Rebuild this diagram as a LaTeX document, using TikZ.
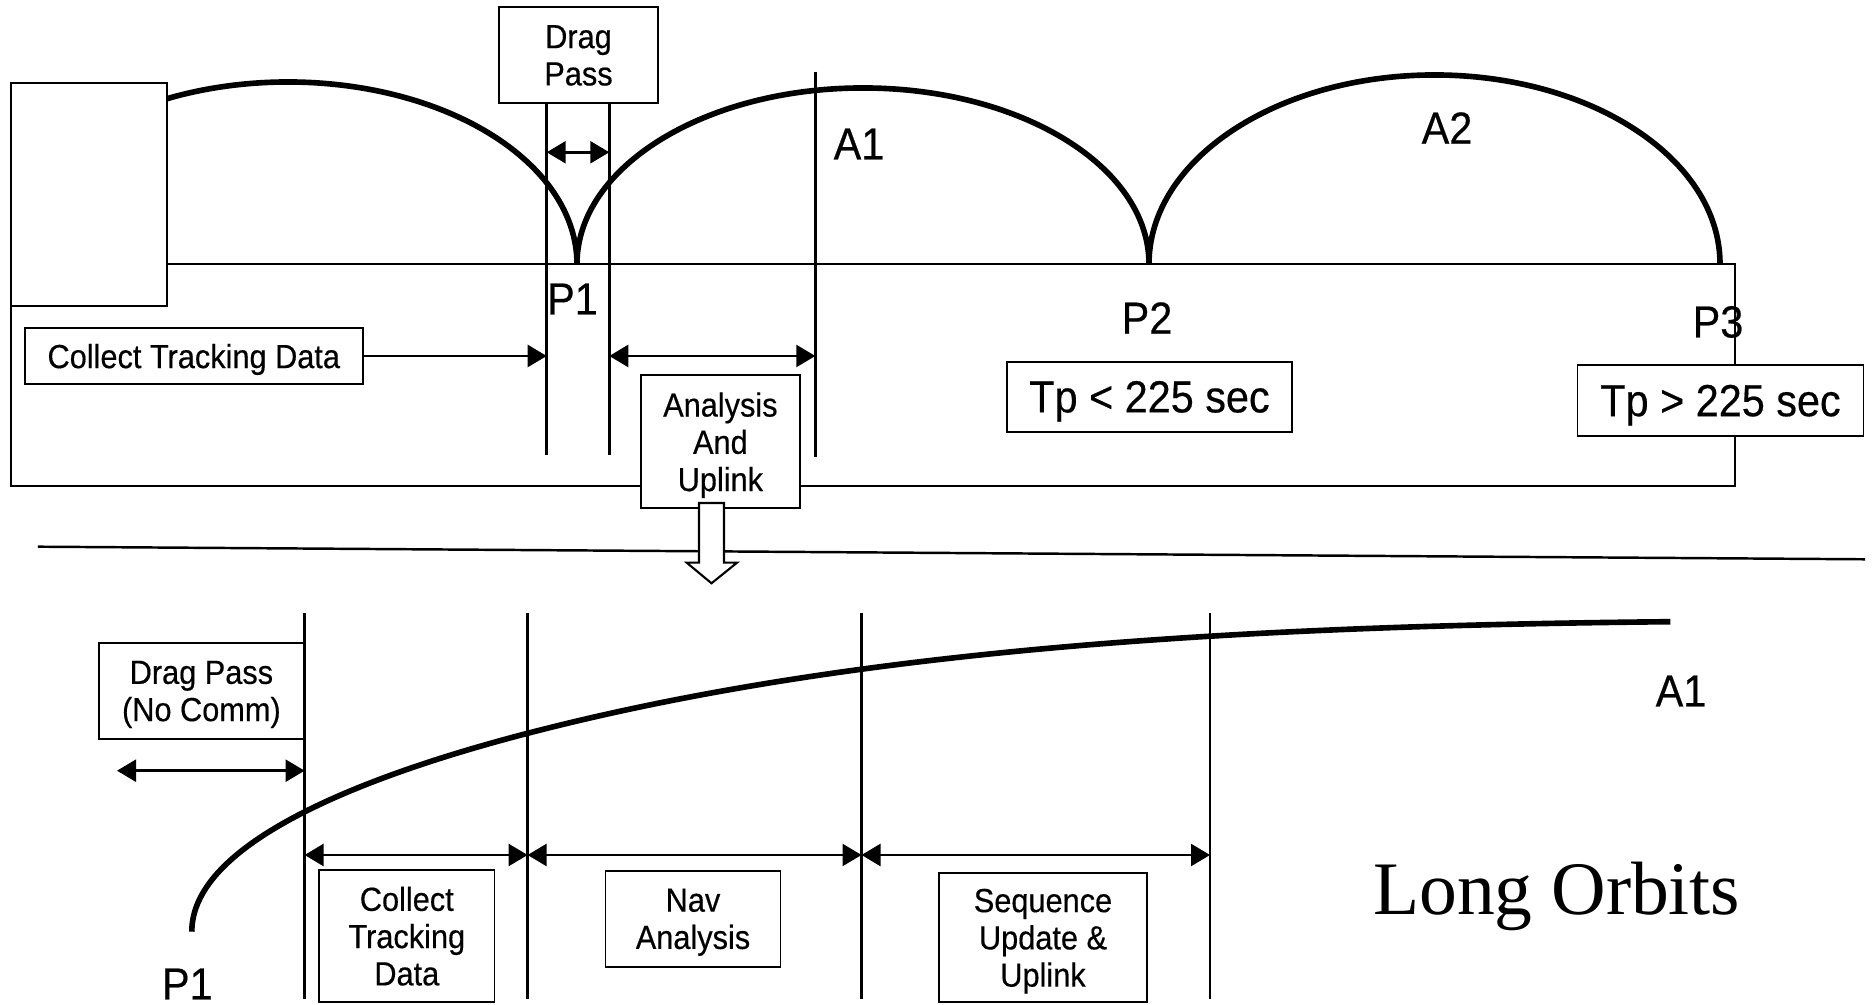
\documentclass[tikz,border=0pt]{standalone}
\usepackage{fontspec}
\setmainfont{Liberation Sans}[FakeStretch=0.92, FakeBold=0.4]
\newfontfamily\titlefont{Liberation Serif}
\usepackage{tikz}
\usetikzlibrary{arrows.meta}
\tikzset{
  lbl/.style={draw, fill=white, line width=0.5pt, inner sep=0pt, align=center, text depth=0pt,
    font=\fontsize{9.5}{10.6}\selectfont},
  biglbl/.style={lbl, font=\fontsize{12.8}{14}\selectfont},
  tag/.style={inner sep=0pt, font=\fontsize{12.8}{14}\selectfont},
  orbit/.style={line width=1.6pt},
  guide/.style={line width=0.7pt},
  leadarrow/.style={line width=0.7pt, -{Triangle[length=1.9mm,width=2.2mm]}},
  spanarrow/.style={line width=0.7pt, {Triangle[length=1.9mm,width=2.2mm]}-{Triangle[length=1.9mm,width=2.2mm]}},
}

\begin{document}
\begin{tikzpicture}
\useasboundingbox (0,0) rectangle (18.74,10.05);
\draw[line width=0.8pt] (0.11,7.41) -- (17.35,7.41) -- (17.35,5.19) -- (0.11,5.19) -- cycle;
\draw[orbit] (1.67,9.063) arc[start angle=114.75, end angle=0, x radius=2.89, y radius=1.82]
  arc[start angle=180, end angle=0, x radius=2.86, y radius=1.76]
  arc[start angle=180, end angle=0, x radius=2.855, y radius=1.89];
\filldraw[fill=white, line width=0.8pt] (0.11,6.99) rectangle (1.67,9.22);
\node[lbl, minimum width=1.59cm, minimum height=0.96cm] (drag) at (5.785,9.497) {Drag\\Pass};
\coordinate (pa) at (5.467,5.50);
\coordinate (pb) at (6.093,5.50);
\coordinate (ap) at (8.153,5.48);
\draw[guide] (drag.south -| pa) -- (pa);
\draw[guide] (drag.south -| pb) -- (pb);
\draw[guide] (8.153,9.333) -- (ap);
\draw[spanarrow] (pa |- 0,8.527) -- (pb |- 0,8.527);
\node[tag] (p1) at (5.725,7.06) {P1};
\node[tag] (a1) at (8.59,8.61) {A1};
\node[tag] (a2) at (14.47,8.77) {A2};
\node[tag] (p2) at (11.47,6.87) {P2};
\node[tag] (p3) at (17.18,6.83) {P3};
\node[biglbl, minimum width=2.844cm, minimum height=0.70cm] (tpless) at (11.495,6.083) {Tp < 225 sec};
\node[biglbl, minimum width=2.86cm, minimum height=0.71cm] (tpmore) at (17.205,6.045) {Tp > 225 sec};
\node[lbl, minimum width=3.377cm, minimum height=0.566cm] (collect) at (1.938,6.49) {Collect Tracking Data};
\draw[leadarrow] (collect.east) -- (collect.east -| pa);
\draw[spanarrow] (pb |- collect.east) -- (ap |- collect.east);
\node[lbl, minimum width=1.593cm, minimum height=1.333cm] (analysis) at (7.204,5.633) {Analysis\\And\\Uplink};
\draw[line width=0.7pt] (0.378,4.583) -- (18.65,4.457);
\filldraw[fill=white, line width=0.6pt] (6.99,5.02) -- (7.24,5.02) -- (7.24,4.423) -- (7.37,4.423)
  -- (7.115,4.217) -- (6.867,4.423) -- (6.99,4.423) -- cycle;
\foreach \x [count=\i] in {3.046,5.276,8.615,12.10} {
  \coordinate (t\i) at (\x,3.92);
  \coordinate (b\i) at (\x,0.06);
  \draw[guide] (t\i) -- (b\i);
}
\node[lbl, minimum width=2.046cm, minimum height=0.957cm, anchor=east] (nocomm) at (t1 |- 0,3.14) {Drag Pass\\(No Comm)};
\coordinate (dragstart) at (1.17,2.343);
\draw[spanarrow] (dragstart) -- (b1 |- dragstart);
\draw[orbit] (1.918,0.733) .. controls (1.918,1.633) and (3.676,2.301) .. (5.276,2.717)
  .. controls (8.676,3.601) and (12.704,3.793) .. (16.704,3.833);
\foreach \a/\b in {1/2,2/3,3/4}
  \draw[spanarrow] (b\a |- 0,1.50) -- (b\b |- 0,1.50);
\node[lbl, minimum width=1.756cm, minimum height=1.32cm] (track) at (4.068,0.69) {Collect\\Tracking\\Data};
\node[lbl, minimum width=1.751cm, minimum height=0.957cm] (nav) at (6.93,0.862) {Nav\\Analysis};
\node[lbl, text depth=-4.8pt, minimum width=2.08cm, minimum height=1.287cm] (sequpl) at (10.43,0.673) {Sequence\\Update \&\\Uplink};
\node[tag] (p1low) at (1.874,0.21) {P1};
\node[tag] (a1low) at (16.81,3.14) {A1};
\node[inner sep=0pt, anchor=base, font=\titlefont\fontsize{21.5}{24}\selectfont] (title) at (15.567,0.90) {Long Orbits};
\end{tikzpicture}
\end{document}
